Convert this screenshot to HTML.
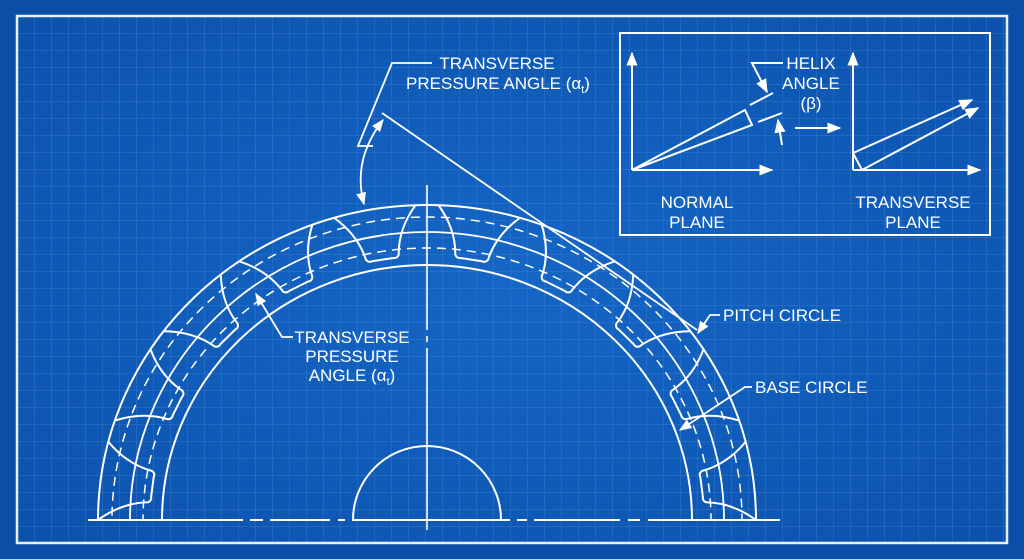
<!DOCTYPE html>
<html><head><meta charset="utf-8"><style>
html,body{margin:0;padding:0;background:#0b4fa8;overflow:hidden;width:1024px;height:559px}
svg{display:block;position:absolute;left:0;top:0}
text{font-family:"Liberation Sans",sans-serif;fill:#fff;font-size:17px}
</style></head><body>
<svg id="s" width="1024" height="559" viewBox="0 0 1024 559" xmlns="http://www.w3.org/2000/svg">
<defs>
<pattern id="g" x="0" y="16" width="17" height="17" patternUnits="userSpaceOnUse">
<path d="M0 0H17M0 0V17" stroke="#4a8ad6" stroke-width="1" fill="none" opacity="0.6"/>
</pattern>
<radialGradient id="bg" cx="0.5" cy="0.5" r="0.7"><stop offset="0" stop-color="#1566c6"/><stop offset="1" stop-color="#0c52ad"/></radialGradient>
<marker id="a" viewBox="0 0 10 10" refX="9" refY="5" markerWidth="7" markerHeight="7" orient="auto-start-reverse"><path d="M0 1L10 5L0 9z" fill="#fff"/></marker>
<clipPath id="cp"><rect x="0" y="0" width="1024" height="520"/></clipPath>
</defs>
<rect width="1024" height="559" fill="#0b4fa8"/>
<rect x="17" y="16" width="990" height="527" fill="url(#bg)"/>
<rect x="17" y="16" width="990" height="527" fill="url(#g)"/>
<rect x="17" y="16" width="990" height="527" fill="none" stroke="#e8f2ff" stroke-width="2.5"/>
<g clip-path="url(#cp)">
<g fill="none" stroke="#fff" stroke-width="2">
<ellipse cx="427" cy="520" rx="329" ry="315"/>
<ellipse cx="427" cy="520" rx="265" ry="255"/>
<ellipse cx="427" cy="520" rx="297" ry="288" stroke-width="1.8"/>
<ellipse cx="427" cy="520" rx="315" ry="303" stroke-dasharray="9 6" stroke-width="1.5"/>
<ellipse cx="427" cy="520" rx="284" ry="272" stroke-dasharray="9 6" stroke-width="1.5"/>
<circle cx="427" cy="520" r="74"/>
</g>
<path id="teeth" fill="none" stroke="#fff" stroke-width="2" d=""/>
</g>
<g stroke="#fff" fill="none" stroke-width="2">
<path d="M88 520H243M250 520H263M270 520H330M338 520H345M352 520H510M517 520H527M534 520H620M628 520H640M648 520H780"/>
<path d="M427 185V330M427 336V342M427 348V530" stroke-width="1.6"/>
<path d="M382 113L697 330" stroke-width="1.8"/>
<path d="M432 63H392L358 146H373" stroke-width="1.8"/>
<path d="M383 120Q352 160 364 204" marker-start="url(#a)" marker-end="url(#a)" stroke-width="1.8"/>
<path d="M293 337H282L256 294" marker-end="url(#a)" stroke-width="1.8"/>
<path d="M720 315H710L698 333" marker-end="url(#a)" stroke-width="1.8"/>
<path d="M752 387H745L680 430" marker-end="url(#a)" stroke-width="1.8"/>
<rect x="620" y="33" width="370" height="202" stroke-width="2"/>
<path d="M632 170V53" marker-end="url(#a)"/>
<path d="M632 170H772" marker-end="url(#a)"/>
<path d="M632 170L745 110L752 125Z"/>
<path d="M750 105L773 93M758 122L782 113"/>
<path d="M783 63H752L767 92" marker-end="url(#a)"/>
<path d="M782 145L778 120" marker-end="url(#a)"/>
<path d="M795 128H840" marker-end="url(#a)"/>
<path d="M853 170V53" marker-end="url(#a)"/>
<path d="M853 170H980" marker-end="url(#a)"/>
<path d="M853 153L972 100" marker-end="url(#a)"/>
<path d="M862 170L978 108" marker-end="url(#a)"/>
<path d="M853 153L862 170"/>
</g>
<text x="497" y="69" text-anchor="middle">TRANSVERSE</text>
<text x="498" y="89" text-anchor="middle">PRESSURE ANGLE (α<tspan font-size="11" dy="4">t</tspan><tspan dy="-4">)</tspan></text>
<text x="352" y="343" text-anchor="middle">TRANSVERSE</text>
<text x="352" y="362" text-anchor="middle">PRESSURE</text>
<text x="352" y="381" text-anchor="middle">ANGLE (α<tspan font-size="11" dy="4">t</tspan><tspan dy="-4">)</tspan></text>
<text x="723" y="321">PITCH CIRCLE</text>
<text x="755" y="393">BASE CIRCLE</text>
<text x="811" y="69" text-anchor="middle">HELIX</text>
<text x="811" y="89" text-anchor="middle">ANGLE</text>
<text x="811" y="109" text-anchor="middle">(β)</text>
<text x="697" y="208" text-anchor="middle">NORMAL</text>
<text x="697" y="228" text-anchor="middle">PLANE</text>
<text x="913" y="208" text-anchor="middle">TRANSVERSE</text>
<text x="913" y="228" text-anchor="middle">PLANE</text>
</svg>
<script>
(function(){
var cx=427,cy=520,rxo=329,ryo=315,rxr=277,ryr=264;
function P(a,f){var r=a*Math.PI/180;var rx=rxr+(rxo-rxr)*f,ry=ryr+(ryo-ryr)*f;return (cx+rx*Math.sin(r)).toFixed(1)+" "+(cy-ry*Math.cos(r)).toFixed(1);}
var d="";
for(var k=-5;k<=4;k++){
 var c=9.2+18.4*k; if(Math.abs(c)>88)continue;
 d+="M"+P(c-7.2,1)+" Q"+P(c-3.8,0.55)+" "+P(c-3.4,0.05)+" Q"+P(c-3,-0.02)+" "+P(c-2.2,0)+" L"+P(c+2.2,0)+" Q"+P(c+3,-0.02)+" "+P(c+3.4,0.05)+" Q"+P(c+3.8,0.55)+" "+P(c+7.2,1)+" ";
}
document.getElementById("teeth").setAttribute("d",d);
})();
</script>
</body></html>
